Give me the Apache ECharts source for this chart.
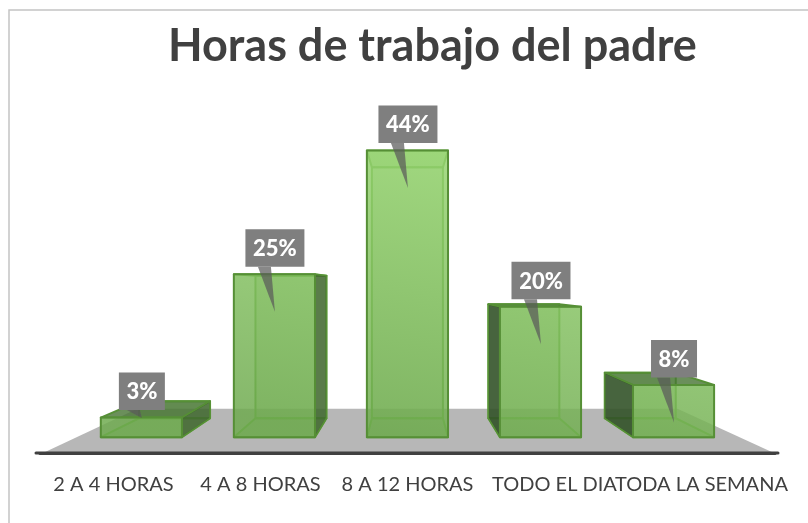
<!DOCTYPE html>
<html><head><meta charset="utf-8">
<style>html,body{margin:0;padding:0;background:#fff}#c{width:808px;height:523px}</style>
<script src="https://cdn.jsdelivr.net/npm/echarts@6/dist/echarts.min.js"></script>
</head><body><div id="c"></div>
<script>
const titleText = 'Horas de trabajo del padre';
const categories = ['2 A 4 HORAS', '4 A 8 HORAS', '8 A 12 HORAS', 'TODO EL DIA', 'TODA LA SEMANA'];
const values = [3, 25, 44, 20, 8];

const VP = [407, 286], FRONT = 0.905, BACK = 0.792, FLOOR_BACK = 0.735, BAR_RATIO = 0.61;
const proj = (p, s) => [VP[0] + (p[0] - VP[0]) * s, VP[1] + (p[1] - VP[1]) * s];
function grad(x0,y0,x1,y1,a,b){return {type:'linear',x:x0,y:y0,x2:x1,y2:y1,global:true,colorStops:[{offset:0,color:a},{offset:1,color:b}]};}
const FACE = grad(450,140,400,440,'rgba(152,214,114,0.84)','rgba(110,170,78,0.84)');
const EDGE = '#568f36', INNER = 'rgba(98,165,62,1)';

function renderFloor(params, api) {
  const g = params.coordSys;
  const y = g.y + g.height, l = g.x, r = g.x + g.width;
  const a = proj([l, y], FLOOR_BACK), b = proj([r, y], FLOOR_BACK);
  return {type:'group', children:[
    {type:'polygon', shape:{points:[[l+3,y],a,b,[r-1,y]]}, style:{fill:'#b7b7b7'}},
    {type:'line', shape:{x1:l-4,y1:y,x2:r+3,y2:y}, style:{stroke:'#404040',lineWidth:3,lineCap:'round'}}
  ]};
}

function renderBar(params, api) {
  const cx = api.coord([api.value(0), 0])[0];
  const base = api.coord([api.value(0), 0])[1];
  const top = api.coord([api.value(0), api.value(1)])[1];
  const hw = api.size([1, 0])[0] * BAR_RATIO / 2;
  const fTL = proj([cx-hw, top], FRONT), fTR = proj([cx+hw, top], FRONT), fBL = proj([cx-hw, base], FRONT), fBR = proj([cx+hw, base], FRONT);
  const bTL = proj([cx-hw, top], BACK), bTR = proj([cx+hw, top], BACK), bBL = proj([cx-hw, base], BACK), bBR = proj([cx+hw, base], BACK);
  const kids = [];
  const poly = (pts, fill, stroke, lw) => kids.push({type:'polygon', shape:{points:pts}, style:{fill:fill||'none', stroke:stroke||'none', lineWidth:lw||0, lineJoin:'round'}});
  poly([bTL,bTR,bBR,bBL], 'rgba(120,180,85,0.30)', INNER, 2);
  poly([fBL,fBR,bBR,bBL], 'rgba(105,165,75,0.30)', INNER, 2);
  const topDark = fTL[1] > bTL[1];
  poly([fTL,fTR,bTR,bTL], topDark ? 'rgba(70,115,50,0.80)' : 'rgba(150,210,115,0.6)', topDark ? EDGE : INNER, 2);
  if (bTR[0] > fTR[0]) poly([fTR,bTR,bBR,fBR], 'rgba(62,100,45,0.82)', EDGE, 1.5);
  if (bTL[0] < fTL[0]) poly([fTL,bTL,bBL,fBL], 'rgba(48,78,38,0.86)', EDGE, 1.5);
  poly([fTL,fTR,fBR,fBL], FACE, EDGE, 2);
  const text = api.value(1) + '%';
  const w = text.length > 2 ? 59 : 46, h = 37.5;
  const mx = (fTL[0] + fTR[0]) / 2 + 0.5, ry = fTL[1] - 45, rb = ry + h;
  const short = fBL[1] - fTL[1] < 30;
  const tip = short ? [mx, rb + 8] : [mx, rb + 45];
  const tail = short ? [[mx-15,rb],[mx-2,rb],tip] : [[mx-17,rb],[mx-4,rb],tip];
  kids.push({type:'polygon', shape:{points:tail}, style:{fill:'rgba(90,90,90,0.72)'}});
  kids.push({type:'rect', shape:{x:mx-w/2,y:ry,width:w,height:h}, style:{fill:'#7f7f7f'}});
  kids.push({type:'text', style:{text, x:mx, y:ry+h/2+1, align:'center', verticalAlign:'middle', fill:'#fff', font:'900 22px Lato'}});
  return {type:'group', children:kids};
}

const chart = echarts.init(document.getElementById('c'));
chart.setOption({
  animation:false,
  backgroundColor:'#fff',
  graphic:[{type:'polyline', silent:true, shape:{points:[[9,523],[9,10],[808,10]]}, style:{stroke:'#c4c4c4',lineWidth:1.5,fill:'none'}}],
  title:{text:titleText,left:163,top:19,textStyle:{fontFamily:'Lato',fontWeight:'bold',fontSize:45,color:'#404040'}},
  grid:{left:40,right:33,top:93,bottom:70},
  xAxis:{type:'category',data:categories,axisTick:{show:false},
    axisLine:{show:true,lineStyle:{color:'#404040',width:3}},
    axisLabel:{interval:0,hideOverlap:false,margin:22,fontFamily:'Lato',fontSize:20,color:'#404040'}},
  yAxis:{type:'value',min:0,max:50,show:false},
  series:[
    {type:'custom',renderItem:renderFloor,data:[[0,0]],silent:true,z:1,clip:false,encode:{x:0,y:1}},
    {type:'custom',renderItem:renderBar,data:values.map((v,i)=>[i,v]),z:2,clip:false,encode:{x:0,y:1}}
  ]
});
</script></body></html>
